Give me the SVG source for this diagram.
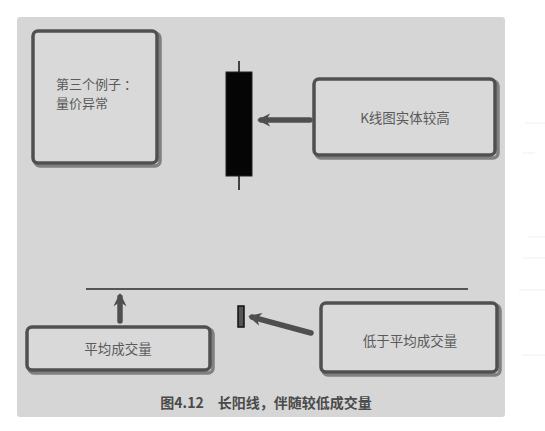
<svg xmlns="http://www.w3.org/2000/svg" width="545" height="431" viewBox="0 0 545 431">
<defs>
<style>
.box{fill:#d9d9d9;stroke:#505050;stroke-width:3.5}
.shadow{fill:none;stroke:#3a3a3a;stroke-width:3.5;opacity:0.55}
.t{font-family:"Noto Sans CJK SC","Noto Sans",sans-serif;font-size:13.5px;fill:#5a5a5a}
.t2{font-family:"Noto Sans CJK SC","Noto Sans",sans-serif;font-size:13px;fill:#5a5a5a}
.arr{stroke:#4f4f4f;stroke-width:5.5;stroke-linecap:round;fill:none}
.cap{font-family:"Noto Sans CJK SC","Noto Sans",sans-serif;font-size:14px;font-weight:bold;fill:#4a4a4a}
.faint{stroke:#f0f0f0;stroke-width:1}
</style>
<marker id="ah" viewBox="0 0 10 10" refX="7" refY="5" markerWidth="2.4" markerHeight="2.4" orient="auto" markerUnits="strokeWidth">
<path d="M0,0 L10,5 L0,10 L3,5 Z" fill="#4f4f4f"/>
</marker>
</defs>
<rect width="545" height="431" fill="#ffffff"/>
<g id="faint-lines">
<line class="faint" x1="525" y1="123" x2="545" y2="123"/>
<line class="faint" x1="522" y1="153" x2="535" y2="153"/>
<line class="faint" x1="528" y1="237" x2="545" y2="237"/>
<line class="faint" x1="522" y1="258" x2="545" y2="258"/>
<line class="faint" x1="519" y1="290" x2="545" y2="290"/>
<line class="faint" x1="522" y1="355" x2="545" y2="355"/>
</g>
<rect id="background" x="17" y="17" width="488" height="400" rx="3" fill="#d6d6d6"/>

<g id="connectors">
<line x1="86" y1="289" x2="468" y2="289" stroke="#555" stroke-width="2"/>
<line class="arr" x1="310" y1="120" x2="261" y2="120" marker-end="url(#ah)"/>
<line class="arr" x1="120" y1="321" x2="120" y2="297" marker-end="url(#ah)"/>
<line class="arr" x1="311" y1="333" x2="252" y2="317" marker-end="url(#ah)"/>
</g>

<g id="node-example">
<rect class="shadow" x="35" y="33" width="125" height="133" rx="5"/>
<rect class="box" x="33" y="31" width="124" height="132" rx="5"/>
<text class="t2" x="56" y="89">第三个例子 ：</text>
<text class="t2" x="56" y="108">量价异常</text>
</g>

<g id="node-candle-big">
<line x1="239" y1="61" x2="239" y2="190" stroke="#111" stroke-width="1.5"/>
<rect x="226" y="72" width="26" height="104" fill="#050505" stroke="#222" stroke-width="1"/>
</g>

<g id="node-kline-high">
<rect class="shadow" x="316" y="81" width="182" height="77" rx="5"/>
<rect class="box" x="314" y="79" width="181" height="76" rx="5"/>
<text class="t" x="405" y="122.5" text-anchor="middle">K线图实体较高</text>
</g>

<g id="node-avg-volume">
<rect class="shadow" x="29" y="329" width="184" height="44" rx="5"/>
<rect class="box" x="27" y="327" width="183" height="43" rx="5"/>
<text class="t" x="118" y="353.5" text-anchor="middle">平均成交量</text>
</g>

<g id="node-candle-small">
<rect x="238" y="306" width="6" height="21" fill="#555" stroke="#111" stroke-width="1.5"/>
</g>

<g id="node-below-avg">
<rect class="shadow" x="323" y="305" width="177" height="70" rx="5"/>
<rect class="box" x="321" y="303" width="176" height="69" rx="5"/>
<text class="t" x="410" y="345.5" text-anchor="middle">低于平均成交量</text>
</g>

<text class="cap" x="266" y="408" text-anchor="middle">图4.12　长阳线，伴随较低成交量</text>
</svg>
